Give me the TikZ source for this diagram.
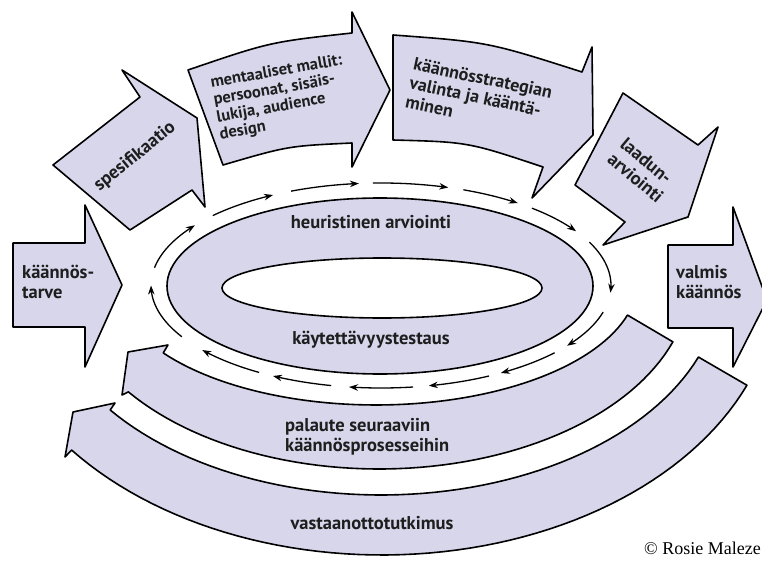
\documentclass[tikz,border=0pt]{standalone}
\usepackage{fontspec}
\usetikzlibrary{arrows.meta}
\setmainfont{PT Sans}
\newfontfamily\copyfont{Liberation Serif}
\definecolor{lav}{RGB}{216,214,235}
\definecolor{ink}{RGB}{30,30,30}
\begin{document}
\begin{tikzpicture}[x=1pt,y=-1pt,
	band/.style={draw=black,fill=lav,line width=1.6pt,line join=round},
	lbl/.style={font=\bfseries\fontsize{18.5}{20}\selectfont,text=ink,align=left,inner sep=0pt},
	runarr/.style={line width=1.3pt,-{Stealth[length=9pt,width=6.5pt]}}]
	\useasboundingbox (0,0) rectangle (762,561);
	\clip (0,0) rectangle (762,561);

	% steps along the top
	\draw[band] (13,243) -- (85,243) -- (85,205) -- (122,285) -- (85,367) -- (85,327) -- (13,327) -- cycle;
	\draw[band] (53,165) -- (140,97) -- (122,70) -- (197,118) -- (205,207) -- (192,190) -- (130,230) -- cycle;
	\draw[band] (188,70) .. controls (270,42) .. (352,33) -- (352,12) -- (390,90) -- (352,167) -- (352,143) .. controls (288,146) .. (223,165) -- cycle;
	\draw[band] (393,35) .. controls (488,42) .. (582,72) -- (592,47) -- (593,135) -- (532,198) -- (543,167) .. controls (468,142) .. (393,140) -- cycle;
	\draw[band] (623,93) -- (698,145) -- (718,127) -- (688,217) -- (603,245) -- (625,222) -- (575,185) -- cycle;
	\draw[band] (668,245) -- (733,245) -- (733,207) -- (767,300) -- (733,367) -- (733,328) -- (668,328) -- cycle;

	\node[lbl,anchor=west] (tarve) at (22,282) {käännös-\\tarve};
	\node[lbl,rotate=39] (spes) at (135,157) {spesifikaatio};
	\node[lbl,rotate=10,font=\bfseries\fontsize{16.5}{17.5}\selectfont] (malli) at (281,98) {mentaaliset mallit:\\persoonat, sisäis-\\lukija, audience\\design};
	\node[lbl,rotate=-12,font=\bfseries\fontsize{18}{19.5}\selectfont] (strat) at (479,97) {käännösstrategian\\valinta ja kääntä-\\minen};
	\node[lbl,rotate=-40] (laatu) at (642,170) {laadun-\\arviointi};
	\node[lbl,anchor=west] (valmis) at (676,282) {valmis\\käännös};

	% ring
	\draw[band,even odd rule] (380,286) ellipse [x radius=213,y radius=88] (382,288) ellipse [x radius=160,y radius=30];
	\node[lbl] (heur) at (371,222) {heuristinen arviointi};
	\node[lbl] (kayt) at (371,340) {käytettävyystestaus};

	% running arrows round the ring
	\foreach \a/\b in {150/180,190/216,223/242,247/264.5,268/287,291/306.5,311/328,335/364,375/396,401/418.6,422/438,442/458,462.5/478,482/501}
		\draw[runarr] plot[domain=\a:\b,samples=20] ({381+230*cos(\x)},{285.5+102.5*sin(\x)});

	% feedback bands
	\draw[band] plot[domain=16.3:144.3,samples=60] ({376+262*cos(\x)},{280+125*sin(\x)})
		-- (168,345) -- (128,352) -- (122,395)
		-- plot[domain=143.7:19.1,samples=60] ({379+311*cos(\x)},{280+189*sin(\x)}) -- cycle;
	\draw[band] plot[domain=21:142.8,samples=60] ({381+340*cos(\x)},{280+215*sin(\x)})
		-- (115,403) -- (73,412) -- (65,457)
		-- plot[domain=141.8:22.5,samples=60] ({382+395*cos(\x)},{280+275*sin(\x)}) -- cycle;
	\node[lbl,anchor=west] (palaute) at (285,437) {palaute seuraaviin\\käännösprosesseihin};
	\node[lbl] (vasta) at (372,523) {vastaanottotutkimus};

	\node[font=\copyfont\fontsize{18}{20}\selectfont,anchor=east,inner sep=0pt] (copy) at (761,548) {© Rosie Maleze};
\end{tikzpicture}
\end{document}
